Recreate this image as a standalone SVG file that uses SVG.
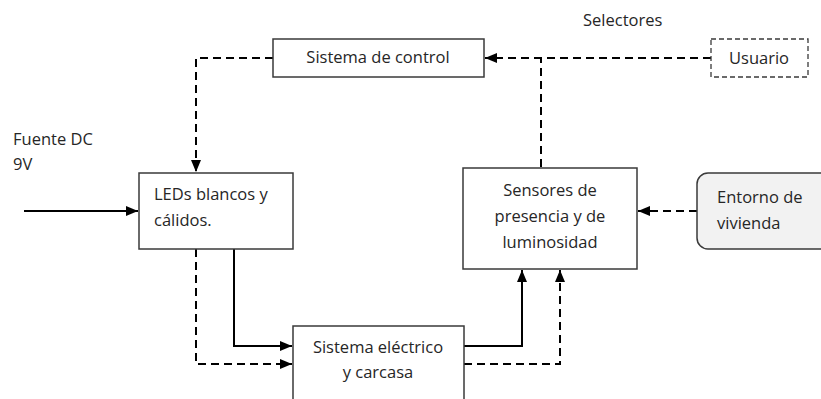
<svg xmlns="http://www.w3.org/2000/svg" width="821" height="399" viewBox="0 0 821 399">
<style>
.box{fill:#fff;stroke:#3a3a3a;stroke-width:1.5}
.t{font-family:"Open Sans","Liberation Sans",sans-serif;font-size:16.5px;fill:#262626}
.c{text-anchor:middle}
.ln{fill:none;stroke:#000;stroke-width:2}
.d{stroke-dasharray:8,5}
</style>
<defs>
<marker id="ah" markerUnits="userSpaceOnUse" markerWidth="12" markerHeight="12" viewBox="0 0 12 12" refX="12" refY="6" orient="auto">
<path d="M0,1 L12,6 L0,11 Z" fill="#000"/>
</marker>
</defs>
<rect width="821" height="399" fill="#fff"/>
<g id="connectors">
<path class="ln d" d="M273,58 H196 V172" marker-end="url(#ah)"/>
<path class="ln d" d="M711,58 H485" marker-end="url(#ah)"/>
<path class="ln d" d="M541,167 V58"/>
<path class="ln" d="M24,211 H138" marker-end="url(#ah)"/>
<path class="ln d" d="M697,211 H638" marker-end="url(#ah)"/>
<path class="ln" d="M234,249 V346 H292" marker-end="url(#ah)"/>
<path class="ln d" d="M196,249 V364 H292" marker-end="url(#ah)"/>
<path class="ln" d="M464,346 H522 V270" marker-end="url(#ah)"/>
<path class="ln d" d="M464,364 H560 V270" marker-end="url(#ah)"/>
</g>
<g id="control">
<rect class="box" x="273" y="39" width="211" height="38"/>
<text class="t c" x="378" y="63">Sistema de control</text>
</g>
<g id="selectores">
<text class="t" x="583" y="26">Selectores</text>
</g>
<g id="usuario">
<rect x="711" y="39" width="97" height="38" fill="#fff" stroke="#3a3a3a" stroke-width="1.3" stroke-dasharray="5,3"/>
<text class="t c" x="759" y="64">Usuario</text>
</g>
<g id="fuente">
<text class="t" x="13" y="145">Fuente DC</text>
<text class="t" x="13" y="170">9V</text>
</g>
<g id="leds">
<rect class="box" x="139" y="173" width="154" height="76"/>
<text class="t" x="154" y="200">LEDs blancos y</text>
<text class="t" x="154" y="226">cálidos.</text>
</g>
<g id="sensores">
<rect class="box" x="463" y="168" width="174" height="101"/>
<text class="t c" x="550" y="196">Sensores de</text>
<text class="t c" x="550" y="222">presencia y de</text>
<text class="t c" x="550" y="248">luminosidad</text>
</g>
<g id="entorno">
<rect x="697" y="173" width="134" height="76" rx="11" fill="#f2f2f2" stroke="#3a3a3a" stroke-width="1.5"/>
<text class="t" x="717" y="203">Entorno de</text>
<text class="t" x="717" y="229">vivienda</text>
</g>
<g id="electrico">
<rect class="box" x="293" y="326" width="171" height="80"/>
<text class="t c" x="378" y="353">Sistema eléctrico</text>
<text class="t c" x="378" y="378">y carcasa</text>
</g>
</svg>
